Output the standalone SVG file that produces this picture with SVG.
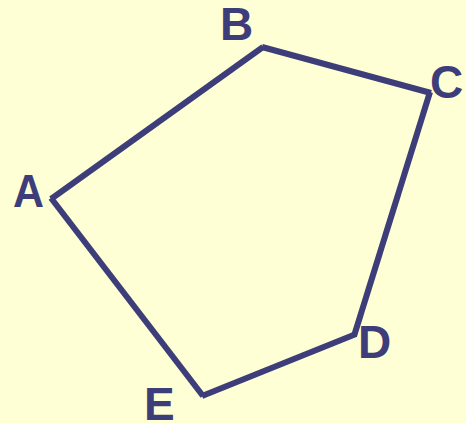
<svg xmlns="http://www.w3.org/2000/svg" width="466" height="423" viewBox="0 0 466 423">
<style>
.edge{stroke:#3D3D7A;stroke-width:6;stroke-linecap:butt;fill:none}
.lbl{font-family:"Liberation Sans",Arial,sans-serif;font-weight:bold;font-size:46px;fill:#3D3D7A}
</style>
<rect width="466" height="423" fill="#FFFFD5"/>
<g id="connectors">
<line class="edge" x1="51" y1="199" x2="263" y2="47"/>
<line class="edge" x1="262" y1="47" x2="431" y2="93"/>
<line class="edge" x1="430" y1="92" x2="354" y2="336"/>
<line class="edge" x1="356" y1="334" x2="202" y2="396"/>
<line class="edge" x1="203" y1="396" x2="51" y2="198"/>
</g>
<g id="A"><text class="lbl" x="13" y="207" textLength="31" lengthAdjust="spacingAndGlyphs">A</text></g>
<g id="B"><text class="lbl" x="220" y="40">B</text></g>
<g id="C"><text class="lbl" x="430" y="98">C</text></g>
<g id="D"><text class="lbl" x="358" y="358">D</text></g>
<g id="E"><text class="lbl" x="144" y="420">E</text></g>
</svg>
